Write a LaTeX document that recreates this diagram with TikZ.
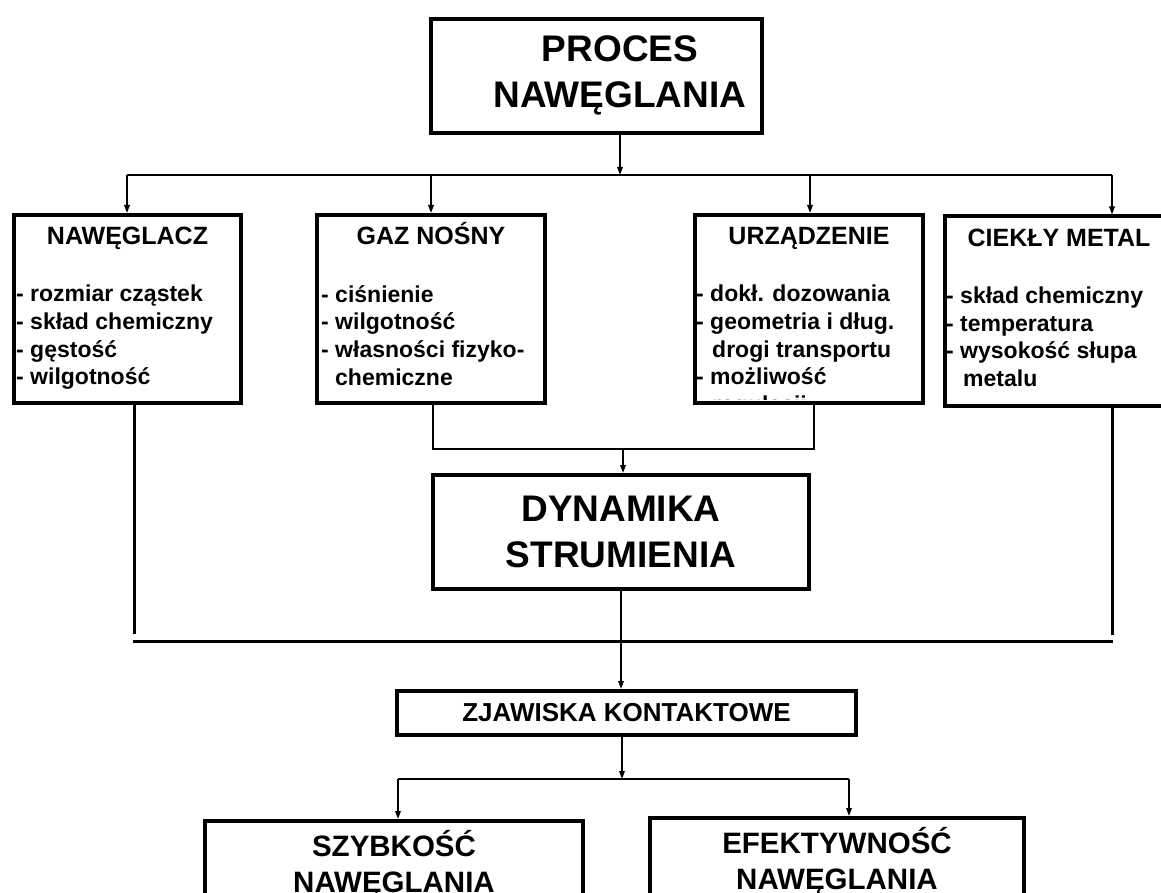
\documentclass[tikz,border=0pt]{standalone}
\usepackage{fontspec}
\setmainfont{Liberation Sans}
\usetikzlibrary{arrows.meta, positioning}

\begin{document}
\begin{tikzpicture}[
    x=1pt, y=-1pt,
    box/.style={rectangle, draw, line width=4pt, inner sep=0pt, align=center},
    big/.style={font=\fontsize{37}{46}\selectfont\bfseries},
    ttl/.style={inner sep=0pt, font=\fontsize{25}{30}\selectfont\bfseries},
    itm/.style={inner sep=0pt, align=left, anchor=north west, font=\fontsize{23}{27.7}\selectfont\bfseries},
    low/.style={font=\fontsize{29.5}{36}\selectfont\bfseries},
    arr/.style={-{Triangle[length=8pt, width=5.5pt]}, line width=1.6pt},
    ln/.style={line width=1.6pt},
    heavy/.style={line width=3pt},
]
\useasboundingbox (0,0) rectangle (1161,893);
\clip (0,0) rectangle (1161,893);

\node[box, minimum width=331pt, minimum height=114pt] (proc) at (596.5,76) {};
\node[big, inner sep=0pt, align=center] (procT) at (620,75) {PROCES\\NAWĘGLANIA};

\node[box, minimum width=227pt, minimum height=188pt] (naw) at (127.5,309) {};
\node[box, minimum width=228pt, minimum height=188pt, right=72pt of naw] (gaz) {};
\node[box, minimum width=228pt, minimum height=188pt, right=146pt of gaz] (urz) {};
\node[box, minimum width=228pt, minimum height=189pt, right=18pt of urz, yshift=-2pt] (ciek) {};

\node[ttl, anchor=base] (nawT) at ([yshift=-32pt]naw.north) {NAWĘGLACZ};
\node[ttl, anchor=base] (gazT) at ([yshift=-32pt]gaz.north) {GAZ NOŚNY};
\node[ttl, anchor=base] (urzT) at ([yshift=-32pt]urz.north) {URZĄDZENIE};
\node[ttl, anchor=base] (ciekT) at ([yshift=-32pt]ciek.north) {CIEKŁY METAL};

\node[itm] (nawL) at ([xshift=4pt, yshift=-72pt]naw.north west) {- rozmiar cząstek\\- skład chemiczny\\- gęstość\\- wilgotność};
\node[itm] (gazL) at ([xshift=6pt, yshift=-72pt]gaz.north west) {- ciśnienie\\- wilgotność\\- własności fizyko-\\\hspace*{14pt}chemiczne};
\begin{scope}
\clip (urz.north west) rectangle ([yshift=6pt]urz.south east);
\node[itm] (urzL) at ([xshift=3pt, yshift=-72pt]urz.north west) {- dokł. dozowania\\- geometria i dług.\\\hspace*{16pt}drogi transportu\\- możliwość\\\hspace*{16pt}regulacji};
\end{scope}
\node[itm] (ciekL) at ([xshift=3pt, yshift=-72pt]ciek.north west) {- skład chemiczny\\- temperatura\\- wysokość słupa\\\hspace*{17pt}metalu};

\node[box, big, minimum width=376pt, minimum height=114pt] (dyn) at (621,532) {DYNAMIKA\\STRUMIENIA};
\node[box, minimum width=459pt, minimum height=44pt, font=\fontsize{26}{30}\selectfont\bfseries] (zjaw) at (626.5,713) {ZJAWISKA KONTAKTOWE};
\node[box, low, anchor=north, minimum width=378pt, minimum height=86pt] (szyb) at (394,819) {SZYBKOŚĆ\\NAWĘGLANIA};
\node[box, low, minimum width=374pt, minimum height=86pt, right=63pt of szyb, yshift=3pt] (efek) {EFEKTYWNOŚĆ\\NAWĘGLANIA};

\coordinate (jC) at (620,175);
\coordinate (jL) at (127,175);
\coordinate (jR) at (1112,175);
\draw[arr] (proc.south -| jC) -- (jC);
\draw[ln] (jL) -- (jR);
\draw[arr] (jL) -- (jL |- naw.north);
\draw[arr] (gaz.north |- jC) -- (gaz.north);
\draw[arr] ([xshift=1pt]urz.north |- jC) -- ([xshift=1pt]urz.north);
\draw[arr] (jR) -- (jR |- ciek.north);

\coordinate (mL) at (433,449);
\coordinate (mR) at (814,449);
\coordinate (mC) at (623,449);
\draw[ln] (gaz.south -| mL) -- (mL) -- (mR) -- (urz.south -| mR);
\draw[arr] (mC) -- (mC |- dyn.north);

\coordinate (bL) at (134,634);
\coordinate (bR) at (1112,635);
\coordinate (hL) at (133,641);
\coordinate (hR) at (1113,641);
\draw[heavy] (naw.south -| bL) -- (bL);
\draw[heavy] (ciek.south -| bR) -- (bR);
\draw[heavy] (hL) -- (hR);
\draw[arr] (dyn.south) -- (dyn.south |- zjaw.north);

\coordinate (sC) at (622,779);
\coordinate (sL) at (398,779);
\coordinate (sR) at (849,779);
\draw[arr] (zjaw.south -| sC) -- (sC);
\draw[ln] (sL) -- (sR);
\draw[arr] (sL) -- (sL |- szyb.north);
\draw[arr] (sR) -- (sR |- efek.north);
\end{tikzpicture}
\end{document}
